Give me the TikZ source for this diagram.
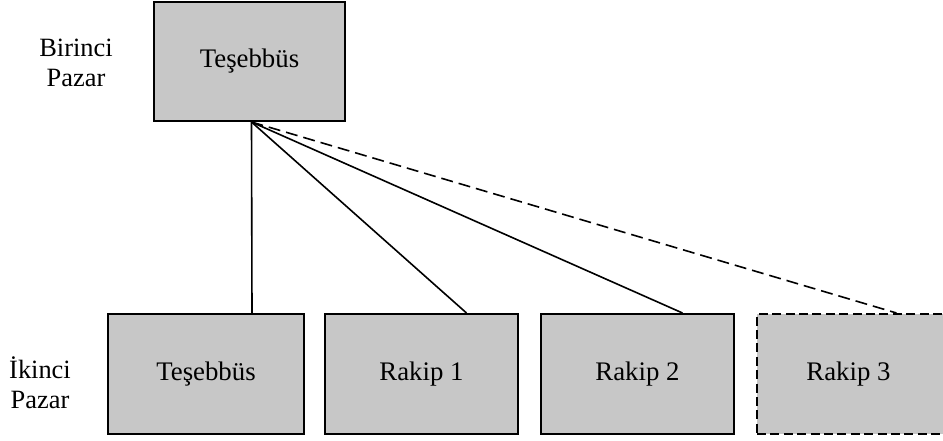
\documentclass[tikz,border=0pt]{standalone}
\usepackage{fontspec}
\setmainfont{Liberation Serif}

\tikzset{
  market/.style={draw,line width=1pt,fill=black!22,minimum width=96.5pt,
    minimum height=60pt,inner sep=0pt,font=\fontsize{13.4}{15}\selectfont},
  rival/.style={market,dash pattern=on 4.5pt off 2.2pt},
  level/.style={align=center,font=\fontsize{13.2}{15.2}\selectfont},
  link/.style={line width=0.8pt}
}

\begin{document}
\begin{tikzpicture}[x=0.5pt,y=-0.5pt]
      \useasboundingbox (0,0) rectangle (943,440);

      % first market: the firm alone
      \node[market,minimum width=95.5pt,minimum height=59.5pt] (top) at (249.5,61.5) {Teşebbüs};
      \node[level] (lvlA) at (76,63) {Birinci\\Pazar};

      % second market: the firm and its rivals
      \node[market,minimum width=98pt] (b1) at (206,374) {Teşebbüs};
      \node[market] (b2) at (421.5,374) {Rakip 1};
      \node[market] (b3) at (637.5,374) {Rakip 2};
      \node[rival,minimum width=100pt,xshift=1.75pt] (b4) at (853.5,374) {};
      \node[font=\fontsize{13.4}{15}\selectfont] (t4) at (848.5,374) {Rakip 3};
      \node[level] (lvlB) at (40,383) {İkinci\\Pazar};

      % links from the firm down to each box
      \draw[link] ([xshift=1pt]top.south) -- ([xshift=23pt]b1.north);
      \foreach \b in {b2,b3}
        \draw[link] ([xshift=1pt]top.south) -- ([xshift=22.5pt]\b.north);
      \draw[link,dash pattern=on 6pt off 3pt] ([xshift=1pt]top.south) -- ([xshift=19.75pt]b4.north);
    \end{tikzpicture}
\end{document}
